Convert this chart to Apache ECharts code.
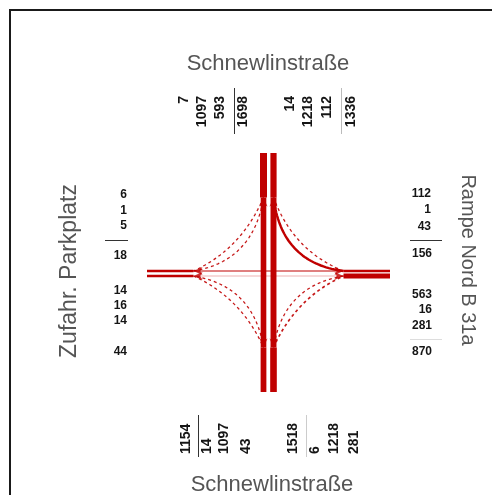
<!DOCTYPE html>
<html><head><meta charset="utf-8">
<script src="https://cdn.jsdelivr.net/npm/echarts@6/dist/echarts.min.js"></script>
<style>html,body{margin:0;padding:0;background:#fff}#c{width:492px;height:495px}</style>
</head><body><div id="c"></div>
<script>
// ---- data ----
const roadNames = ['Schnewlinstraße', 'Rampe Nord B 31a', 'Schnewlinstraße', 'Zufahr. Parkplatz']; // N, E, S, W
const northIn = [7, 1097, 593];   const northInTotal = 1698;
const northOut = [14, 1218, 112]; const northOutTotal = 1336;
const eastIn = [112, 1, 43];      const eastInTotal = 156;
const eastOut = [563, 16, 281];   const eastOutTotal = 870;
const southOut = [14, 1097, 43];  const southOutTotal = 1154;
const southIn = [6, 1218, 281];   const southInTotal = 1518;
const westOut = [6, 1, 5];        const westOutTotal = 18;
const westIn = [14, 16, 14];      const westInTotal = 44;

// ---- layout ----
const RED = '#c00000';
const HX = 121.5, HY = 119.5, D = 75;
const LX = { S: -5, N: 5 };
const LY = { W: -1.5, E: 3.5 };
const entry = { N: [LX.S, -D], S: [LX.N, D], E: [D, LY.W], W: [-D, LY.E] };
const exit  = { N: [LX.N, -D], S: [LX.S, D], E: [D, LY.E], W: [-D, LY.W] };
const armEnd = { N: [null, -HY], S: [null, HY], E: [HX, null], W: [-HX, null] };
const exitRot = { N: 0, S: 180, W: 90, E: -90 };
const quad = { N: [0, -1], S: [0, 1], E: [1, 0], W: [-1, 0] };

const wArm = v => Math.max(2.5, 0.17 * Math.sqrt(v));
const wStr = v => Math.max(1, 0.17 * Math.sqrt(v));
const wTurn = v => Math.max(1.3, 0.1 * Math.sqrt(v));

const series = [];
function addLine(pts, width, opts) {
  opts = opts || {};
  series.push({
    type: 'line', data: pts, showSymbol: false, silent: true, clip: false, animation: false,
    lineStyle: { color: RED, width: width, type: opts.type || 'solid', opacity: opts.opacity == null ? 1 : opts.opacity, cap: 'butt' },
    z: opts.z || 2
  });
}
function arm(dir, inV, outV) {
  const e = entry[dir], x = exit[dir];
  const vert = dir === 'N' || dir === 'S';
  const endIn = vert ? [e[0], armEnd[dir][1]] : [armEnd[dir][0], e[1]];
  const endOut = vert ? [x[0], armEnd[dir][1]] : [armEnd[dir][0], x[1]];
  addLine([endIn, e], wArm(inV));
  addLine([x, endOut], wArm(outV));
}
arm('N', northInTotal, northOutTotal);
arm('S', southInTotal, southOutTotal);
arm('E', eastInTotal, eastOutTotal);
arm('W', westInTotal, westOutTotal);

addLine([entry.N, exit.S], wStr(northIn[1]));
addLine([entry.S, exit.N], wStr(southIn[1]));
addLine([entry.E, exit.W], wStr(eastIn[1]));
addLine([entry.W, exit.E], wStr(westIn[1]), { opacity: 0.3 });

// turning movements, drawn in the quadrant between the two arms
const turns = [
  { f: 'N', t: 'W', v: northIn[0], bend: 22 },
  { f: 'W', t: 'N', v: westIn[0], bend: 10 },
  { f: 'N', t: 'E', v: northIn[2], bend: 8 },
  { f: 'E', t: 'N', v: eastIn[0], bend: 20 },
  { f: 'E', t: 'S', v: eastIn[2], bend: 10 },
  { f: 'S', t: 'E', v: southIn[2], bend: 22 },
  { f: 'S', t: 'W', v: southIn[0], bend: 10 },
  { f: 'W', t: 'S', v: westIn[2], bend: 22 }
];
const arrows = [];
turns.forEach(m => {
  const vd = (m.f === 'N' || m.f === 'S') ? m.f : m.t; // vertical arm
  const hd = (m.f === 'N' || m.f === 'S') ? m.t : m.f; // horizontal arm
  const sx = quad[hd][0], sy = quad[vd][1];
  const lx = sx * 5, ly = sy < 0 ? LY.W : LY.E;
  const vPt = [lx, sy * D], hPt = [sx * D, ly];
  const p0 = (m.f === vd) ? vPt : hPt;
  const p2 = (m.f === vd) ? hPt : vPt;
  const p1 = [lx + sx * m.bend, ly + sy * m.bend];
  const pts = [];
  for (let i = 0; i <= 40; i++) {
    const t = i / 40, a = (1 - t) * (1 - t), b = 2 * t * (1 - t), c = t * t;
    pts.push([a * p0[0] + b * p1[0] + c * p2[0], a * p0[1] + b * p1[1] + c * p2[1]]);
  }
  const solid = m.v >= 300;
  addLine(pts, wTurn(m.v), { type: solid ? 'solid' : [3, 3], opacity: solid ? 1 : 0.9 });
  arrows.push({ value: p2, symbolRotate: exitRot[m.t] });
});
series.push({
  type: 'scatter', data: arrows, symbol: 'arrow', symbolSize: [6, 9], silent: true, animation: false,
  itemStyle: { color: RED }, z: 5
});

// ---- text ----
const g = [];
const HF = 'bold 12px "Liberation Sans", Arial, sans-serif';
const VF = 'bold 14px "Liberation Sans", Arial, sans-serif';
const nameF = s => s + 'px "Liberation Sans", Arial, sans-serif';
const NAMEC = '#555';
function txt(s, x, y, opt) {
  g.push({ type: 'text', x: x, y: y, rotation: opt.rot || 0, z: 10,
    style: { text: String(s), font: opt.font || HF, fill: opt.fill || '#151515', align: opt.align || 'center', verticalAlign: opt.va || 'middle' } });
}
function ln(x1, y1, x2, y2, col) {
  g.push({ type: 'line', shape: { x1, y1, x2, y2 }, style: { stroke: col, lineWidth: 1 }, z: 10 });
}
g.push({ type: 'rect', shape: { x: 10, y: 10, width: 520, height: 520 }, style: { fill: 'none', stroke: '#1a1a1a', lineWidth: 2 }, z: 1 });
txt(roadNames[0], 268, 64, { font: nameF(22), fill: NAMEC });
txt(roadNames[2], 272, 485, { font: nameF(22), fill: NAMEC });
txt(roadNames[3], 70, 271, { font: nameF(23), fill: NAMEC, rot: Math.PI / 2 });
txt(roadNames[1], 468, 260, { font: nameF(20), fill: NAMEC, rot: -Math.PI / 2 });
const R90 = Math.PI / 2;
// top
[184, 202, 220].forEach((x, i) => txt(northIn[i], x, 96, { rot: R90, align: 'right', font: VF }));
txt(northInTotal, 243, 96, { rot: R90, align: 'right', font: VF });
ln(234.5, 88, 234.5, 134, '#333');
[290, 308, 327].forEach((x, i) => txt(northOut[i], x, 96, { rot: R90, align: 'right', font: VF }));
txt(northOutTotal, 351, 96, { rot: R90, align: 'right', font: VF });
ln(341.5, 88, 341.5, 134, '#bbb');
// bottom
txt(southOutTotal, 186, 454, { rot: R90, align: 'left', font: VF });
ln(198.5, 415, 198.5, 457, '#333');
[207, 224, 246].forEach((x, i) => txt(southOut[i], x, 454, { rot: R90, align: 'left', font: VF }));
txt(southInTotal, 293, 454, { rot: R90, align: 'left', font: VF });
ln(306.5, 415, 306.5, 457, '#ccc');
[315, 334, 354].forEach((x, i) => txt(southIn[i], x, 454, { rot: R90, align: 'left', font: VF }));
// left
[195, 211, 226].forEach((y, i) => txt(westOut[i], 127, y, { align: 'right' }));
ln(105, 240.5, 128, 240.5, '#333');
txt(westOutTotal, 127, 256, { align: 'right' });
[291, 306, 321].forEach((y, i) => txt(westIn[i], 127, y, { align: 'right' }));
txt(westInTotal, 127, 352, { align: 'right' });
// right
[194, 210, 227].forEach((y, i) => txt(eastIn[i], 431, y, { align: 'right' }));
ln(410, 240.5, 442, 240.5, '#333');
txt(eastInTotal, 432, 254, { align: 'right' });
[295, 310, 326].forEach((y, i) => txt(eastOut[i], 432, y, { align: 'right' }));
ln(410, 339.5, 442, 339.5, '#ddd');
txt(eastOutTotal, 432, 352, { align: 'right' });

const chart = echarts.init(document.getElementById('c'), null, { renderer: 'canvas' });
chart.setOption({
  animation: false,
  backgroundColor: '#fff',
  grid: { left: 147, right: 102, top: 153, bottom: 103 },
  xAxis: { type: 'value', min: -HX, max: HX, show: false },
  yAxis: { type: 'value', min: -HY, max: HY, inverse: true, show: false },
  series: series,
  graphic: g
});
</script></body></html>
